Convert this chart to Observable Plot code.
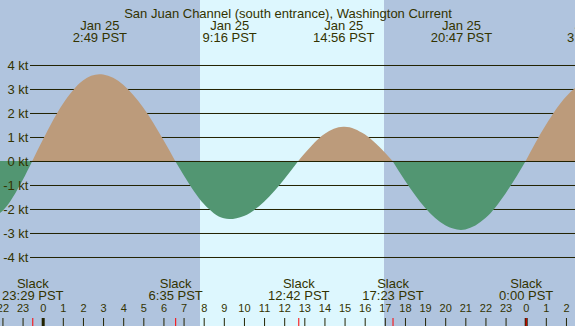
<!DOCTYPE html>
<html>
<head>
<meta charset="utf-8">
<script src="https://cdn.jsdelivr.net/npm/d3@7"></script>
<script src="https://cdn.jsdelivr.net/npm/@observablehq/plot@0.6"></script>
<style>
  html, body { margin: 0; padding: 0; background: #b0c4de; }
</style>
</head>
<body>
<div id="chart"></div>
<script>
// ---- data (hours relative to 00:00 Jan 25, PST) ----
const title = "San Juan Channel (south entrance), Washington Current";

// current speed series (kt)
const seriesHours = [-3, -2.74, -2, -1, -0.517, 0, 1, 2, 2.817, 3, 4, 5, 6, 6.583, 7, 8, 9, 9.267, 10, 11, 12, 12.7, 13, 14, 14.933, 15, 16, 17, 17.383, 18, 19, 20, 20.783, 21, 22, 23, 24, 25, 26, 27, 27.38];
const seriesKt    = [-2.38, -2.40, -2.08, -0.80, 0, 0.87, 2.37, 3.35, 3.61, 3.60, 3.18, 2.22, 0.87, 0, -0.58, -1.78, -2.39, -2.42, -2.29, -1.70, -0.76, 0, 0.30, 1.13, 1.43, 1.43, 1.11, 0.35, 0, -0.81, -1.95, -2.68, -2.87, -2.85, -2.38, -1.35, 0, 1.50, 2.68, 3.30, 3.35];

// maximum current events (top labels)
const peakHours  = [2.817, 9.267, 14.933, 20.783, 27.38];
const peakDates  = ["Jan 25", "Jan 25", "Jan 25", "Jan 25", "Jan 26"];
const peakTimes  = ["2:49", "9:16", "14:56", "20:47", "3:23"];

// slack events (bottom labels)
const slackHours = [-0.517, 6.583, 12.7, 17.383, 24.0];
const slackTimes = ["23:29", "6:35", "12:42", "17:23", "0:00"];

// daylight
const sunrise = 7.816;
const sunset = 16.96;

// axis ticks
const yTicks = [4, 3, 2, 1, 0, -1, -2, -3, -4];
const hourTicks = d3.range(-2, 27);

// ---- build ----
const points = seriesHours.map((t, i) => ({t, v: seriesKt[i]}));
// split the series into flood / ebb segments at slack points
const segs = [];
let seg = 0, cur = [];
points.forEach((p, i) => {
  cur.push(p);
  if (p.v === 0 && i > 0) {
    segs.push(cur);
    cur = [p];
  }
});
segs.push(cur);
const areaData = [];
segs.forEach((s, k) => {
  const sum = d3.sum(s, d => d.v);
  const kind = sum >= 0 ? "flood" : "ebb";
  s.forEach(p => areaData.push({t: p.t, v: p.v, seg: k, kind}));
});

const textColor = "#333300";
const lineColor = "#222200";
const font = "'Liberation Sans', Arial, sans-serif";

const plot = Plot.plot({
  width: 575,
  height: 326,
  margin: 0,
  style: {background: "#b0c4de", fontFamily: font, color: textColor},
  x: {domain: [-2.1217, 26.45], axis: null},
  y: {domain: [-6.875, 6.708], axis: null},
  color: {domain: ["flood", "ebb"], range: ["#bc9b7b", "#529672"]},
  marks: [
    Plot.rect([{a: sunrise, b: sunset}], {x1: "a", x2: "b", fill: "#ddf7fe"}),
    Plot.ruleY(yTicks, {y: d => d, insetLeft: 30, stroke: lineColor, strokeWidth: 1}),
    Plot.areaY(areaData, {x: "t", y: "v", z: "seg", fill: "kind", curve: "monotone-x"}),
    Plot.ruleY([0], {insetLeft: 30, stroke: lineColor, strokeWidth: 1}),
    Plot.text(yTicks, {y: d => d, text: d => `${d} kt`, frameAnchor: "left", textAnchor: "end", dx: 28, fontSize: 13, fill: textColor}),
    Plot.text([title], {text: d => d, frameAnchor: "top", dy: 7.8, fontSize: 13, fill: textColor}),
    Plot.text(peakHours, {x: d => d, text: (d, i) => peakDates[i], frameAnchor: "top", dy: 19.8, fontSize: 13, fill: textColor}),
    Plot.text(peakHours, {x: d => d, text: (d, i) => `${peakTimes[i]} PST`, frameAnchor: "top", dy: 31.8, fontSize: 13, fill: textColor}),
    Plot.text(slackHours, {x: d => d, text: () => "Slack", frameAnchor: "bottom", dy: -38.5, fontSize: 13, fill: textColor}),
    Plot.text(slackHours, {x: d => d, text: (d, i) => `${slackTimes[i]} PST`, frameAnchor: "bottom", dy: -26.7, fontSize: 13, fill: textColor}),
    Plot.text(hourTicks, {x: d => d, text: d => String(((d % 24) + 24) % 24), frameAnchor: "bottom", dy: -14.2, fontSize: 11, fill: textColor}),
    Plot.ruleX(hourTicks.filter(h => ((h % 24) + 24) % 24 !== 0), {x: d => d, insetTop: 318, stroke: lineColor, strokeWidth: 1}),
    Plot.ruleX(hourTicks.filter(h => ((h % 24) + 24) % 24 === 0), {x: d => d, insetTop: 318, stroke: lineColor, strokeWidth: 3}),
    Plot.ruleX(slackHours, {x: d => d, insetTop: 318, stroke: "red", strokeWidth: 1})
  ]
});
document.getElementById("chart").appendChild(plot);
</script>
</body>
</html>
